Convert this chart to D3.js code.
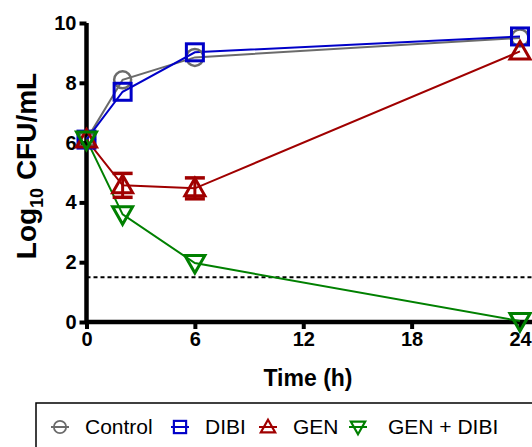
<!DOCTYPE html>
<html>
<head>
<meta charset="utf-8">
<script src="https://cdn.jsdelivr.net/npm/d3@7"></script>
<style>
  body { margin: 0; background: #fff; }
  text { font-family: "Liberation Sans", Arial, sans-serif; }
</style>
</head>
<body>
<svg id="chart" width="532" height="447"></svg>
<script>
// time points (h)
var times = [0, 2, 6, 24];
var control = [6.1, 8.1, 8.85, 9.5];
var dibi = [6.1, 7.7, 9.02, 9.55];
var gen = [6.1, 4.57, 4.47, 9.05];
var genErr = [0, 0.4, 0.35, 0];
var genDibi = [6.1, 3.6, 1.97, 0.03];
var xTicks = [0, 6, 12, 18, 24];
var yTicks = [0, 2, 4, 6, 8, 10];
var detectionLimit = 1.5;

var series = [
  { name: "Control", vals: control, color: "#6b6b6b", sym: "circle" },
  { name: "DIBI", vals: dibi, color: "#0000c8", sym: "square" },
  { name: "GEN", vals: gen, color: "#a00000", sym: "up", err: genErr },
  { name: "GEN + DIBI", vals: genDibi, color: "#008000", sym: "down" }
];

var svg = d3.select("#chart");
var x = d3.scaleLinear().domain([0, 24]).range([86.5, 520]);
var y = d3.scaleLinear().domain([0, 10]).range([322, 23]);

function marker(g, sym, color) {
  if (sym === "circle") {
    g.append("circle").attr("r", 8.5).attr("fill", "none").attr("stroke", color).attr("stroke-width", 2.5);
  } else if (sym === "square") {
    g.append("rect").attr("x", -8.5).attr("y", -8.5).attr("width", 17).attr("height", 17)
      .attr("fill", "none").attr("stroke", color).attr("stroke-width", 3);
  } else if (sym === "up") {
    g.append("path").attr("d", "M0,-10L10,7.5L-10,7.5Z").attr("fill", "none").attr("stroke", color).attr("stroke-width", 3);
  } else {
    g.append("path").attr("d", "M0,10L10,-7.5L-10,-7.5Z").attr("fill", "none").attr("stroke", color).attr("stroke-width", 3);
  }
}

// detection limit
svg.append("line")
  .attr("x1", x(0)).attr("x2", 532)
  .attr("y1", y(detectionLimit)).attr("y2", y(detectionLimit))
  .attr("stroke", "#000").attr("stroke-width", 2).attr("stroke-dasharray", "4,3");

// axes
var xAxis = svg.append("g").attr("transform", "translate(0," + y(0) + ")")
  .call(d3.axisBottom(x).tickValues(xTicks).tickSize(7).tickPadding(3));
var yAxis = svg.append("g").attr("transform", "translate(" + x(0) + ",0)")
  .call(d3.axisLeft(y).tickValues(yTicks).tickSize(7).tickPadding(3));
[xAxis, yAxis].forEach(function(a) {
  a.attr("font-size", null).attr("font-family", null);
  a.select(".domain").attr("stroke", "#000").attr("stroke-width", 4.5);
  a.selectAll(".tick line").attr("stroke", "#000").attr("stroke-width", 4);
  a.selectAll(".tick text").attr("fill", "#000")
    .style("font-size", "20px").style("font-weight", "bold");
});
xAxis.select(".domain").attr("d", "M" + x(0) + ",0H" + 532);
yAxis.select(".domain").attr("d", "M0," + y(0) + "V" + y(10));

// lines
var line = d3.line().x(function(d) { return x(d[0]); }).y(function(d) { return y(d[1]); });
series.forEach(function(s) {
  var pts = times.map(function(t, i) { return [t, s.vals[i]]; });
  svg.append("path").attr("d", line(pts)).attr("fill", "none")
    .attr("stroke", s.color).attr("stroke-width", 2);
});

// error bars and markers
series.forEach(function(s) {
  times.forEach(function(t, i) {
    if (s.err && s.err[i] > 0) {
      var cx = x(t), lo = y(s.vals[i] - s.err[i]), hi = y(s.vals[i] + s.err[i]);
      svg.append("line").attr("x1", cx).attr("x2", cx).attr("y1", lo).attr("y2", hi)
        .attr("stroke", s.color).attr("stroke-width", 3);
      [lo, hi].forEach(function(yy) {
        svg.append("line").attr("x1", cx - 10).attr("x2", cx + 10).attr("y1", yy).attr("y2", yy)
          .attr("stroke", s.color).attr("stroke-width", 3.5);
      });
    }
    var g = svg.append("g").attr("transform", "translate(" + x(t) + "," + y(s.vals[i]) + ")");
    marker(g, s.sym, s.color);
  });
});

// axis titles
var yt = svg.append("text").attr("transform", "translate(36,166) rotate(-90)")
  .attr("text-anchor", "middle").style("font-size", "28px").style("font-weight", "bold");
yt.append("tspan").text("Log");
yt.append("tspan").text("10").style("font-size", "18px").attr("dy", 7);
yt.append("tspan").text(" CFU/mL").attr("dy", -7);

svg.append("text").attr("x", 308).attr("y", 386).attr("text-anchor", "middle")
  .style("font-size", "23px").style("font-weight", "bold").text("Time (h)");

// legend
svg.append("rect").attr("x", 36).attr("y", 403).attr("width", 520).attr("height", 60)
  .attr("fill", "#fff").attr("stroke", "#000").attr("stroke-width", 1.5);
var legX = [60, 180, 268, 358];
var legTextX = [85, 205, 293, 388];
series.forEach(function(s, i) {
  var g = svg.append("g").attr("transform", "translate(" + legX[i] + ",427)");
  g.append("line").attr("x1", -9).attr("x2", 9)
    .attr("stroke", s.color).attr("stroke-width", 2);
  var m = g.append("g").attr("transform", "scale(0.72)");
  marker(m, s.sym, s.color);
  svg.append("text").attr("x", legTextX[i]).attr("y", 434).style("font-size", "21px")
    .attr("fill", "#000").text(s.name);
});
</script>
</body>
</html>
